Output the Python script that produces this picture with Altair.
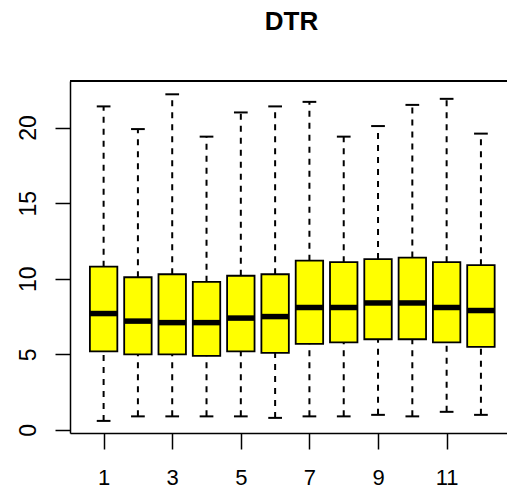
import altair as alt
import pandas as pd

# Monthly DTR summaries: five-number box statistics per month
month = [1, 2, 3, 4, 5, 6, 7, 8, 9, 10, 11, 12]
lower = [0.6, 0.9, 0.9, 0.9, 0.9, 0.8, 0.9, 0.9, 1.0, 0.9, 1.2, 1.0]
q1 = [5.2, 5.0, 5.0, 4.9, 5.2, 5.1, 5.7, 5.8, 6.0, 6.0, 5.8, 5.5]
median = [7.7, 7.2, 7.1, 7.1, 7.4, 7.5, 8.1, 8.1, 8.4, 8.4, 8.1, 7.9]
q3 = [10.8, 10.1, 10.3, 9.8, 10.2, 10.3, 11.2, 11.1, 11.3, 11.4, 11.1, 10.9]
upper = [21.4, 19.9, 22.2, 19.4, 21.0, 21.4, 21.7, 19.4, 20.1, 21.5, 21.9, 19.6]

df = pd.DataFrame({"month": month, "lower": lower, "q1": q1,
                   "median": median, "q3": q3, "upper": upper})

FONT = "Liberation Sans"
W, H = 437, 352

x_scale = alt.Scale(domain=[0.02, 12.76], nice=False, zero=False)
y_scale = alt.Scale(domain=[-0.2, 23.08], nice=False, zero=False)

x_axis = alt.Axis(values=month, title=None, grid=False, tickSize=16,
                  tickWidth=1.5, tickColor="black", domainColor="black",
                  domainWidth=1.5, labelFontSize=22, labelFont=FONT,
                  labelColor="black", labelPadding=18, labelFlush=False,
                  labelExpr="datum.value % 2 == 1 ? datum.label : ''")
y_axis = alt.Axis(values=[0, 5, 10, 15, 20], title=None, grid=False,
                  tickSize=15, tickWidth=1.5, tickColor="black",
                  domainColor="black", domainWidth=1.5, labelFontSize=23,
                  labelFont=FONT, labelColor="black", labelAngle=-90,
                  labelAlign="center", labelBaseline="bottom",
                  labelPadding=15, labelFlush=False)

base = alt.Chart(df).transform_calculate(
    bx1="datum.month - 0.4", bx2="datum.month + 0.4",
    cx1="datum.month - 0.2", cx2="datum.month + 0.2",
)

dash = [6, 6]
whisk_up = base.mark_rule(color="black", strokeWidth=2, strokeDash=dash).encode(
    x=alt.X("month:Q", scale=x_scale, axis=x_axis),
    y=alt.Y("q3:Q", scale=y_scale, axis=y_axis),
    y2="upper:Q",
)
whisk_lo = base.mark_rule(color="black", strokeWidth=2, strokeDash=dash).encode(
    x=alt.X("month:Q", scale=x_scale),
    y=alt.Y("lower:Q", scale=y_scale),
    y2="q1:Q",
)
cap_up = base.mark_rule(color="black", strokeWidth=2).encode(
    x=alt.X("cx1:Q", scale=x_scale), x2="cx2:Q",
    y=alt.Y("upper:Q", scale=y_scale),
)
cap_lo = base.mark_rule(color="black", strokeWidth=2).encode(
    x=alt.X("cx1:Q", scale=x_scale), x2="cx2:Q",
    y=alt.Y("lower:Q", scale=y_scale),
)
boxes = base.mark_rect(fill="#FFFF00", stroke="black", strokeWidth=1.8).encode(
    x=alt.X("bx1:Q", scale=x_scale), x2="bx2:Q",
    y=alt.Y("q1:Q", scale=y_scale), y2="q3:Q",
)
med = base.mark_rule(color="black", strokeWidth=5.5, strokeCap="butt").encode(
    x=alt.X("bx1:Q", scale=x_scale), x2="bx2:Q",
    y=alt.Y("median:Q", scale=y_scale),
)
# top edge of the plot frame
frame_top = alt.Chart(df).mark_rule(color="black", strokeWidth=1.5).encode(
    x=alt.value(0), x2=alt.value(W), y=alt.value(0)
)

chart = alt.layer(
    whisk_up, whisk_lo, cap_up, cap_lo, boxes, med, frame_top
).properties(
    width=W, height=H,
    title=alt.TitleParams("DTR", fontSize=26, fontWeight="bold", font=FONT,
                          color="black", anchor="middle", frame="group",
                          baseline="alphabetic", offset=24, dx=3),
    autosize=alt.AutoSizeParams(type="none"),
    padding={"left": 70, "top": 81, "right": 0, "bottom": 57},
).configure_view(stroke=None).configure(background="white")

chart.save("out.html", embed_options={"renderer": "svg", "actions": False})
